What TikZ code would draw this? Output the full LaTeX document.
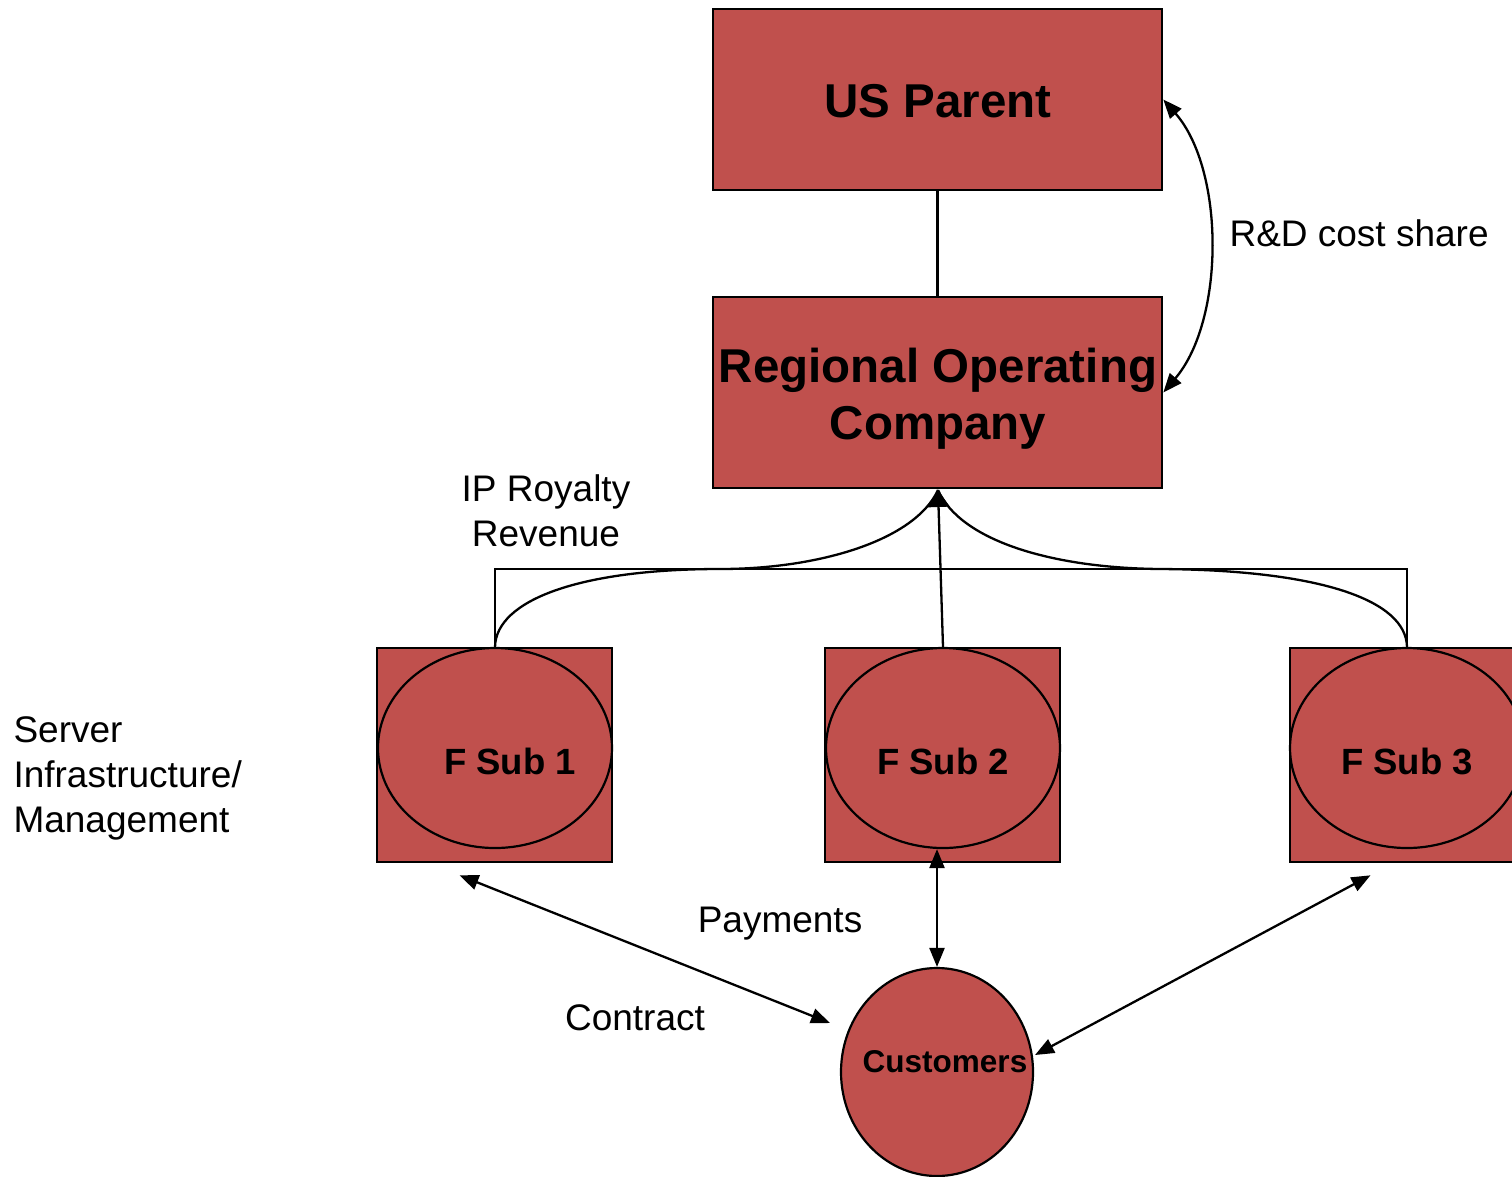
\documentclass[tikz,border=0pt]{standalone}
\usepackage{fontspec}
\setmainfont{Liberation Sans}
\usetikzlibrary{arrows.meta,shapes.geometric,calc}
\definecolor{boxred}{HTML}{C0504D}
\tikzset{
  entity/.style={draw=black,line width=2.6pt,fill=boxred,rectangle,inner sep=0pt},
  subbox/.style={entity,minimum width=235pt,minimum height=214pt},
  subell/.style={draw=black,line width=2.2pt,fill=boxred,ellipse,minimum width=234pt,minimum height=200pt,inner sep=0pt},
  bigtxt/.style={font=\fontsize{47.5}{57}\selectfont\bfseries,align=center},
  subtxt/.style={font=\fontsize{36.5}{44}\selectfont\bfseries},
  lbl/.style={font=\fontsize{37}{45}\selectfont},
  link/.style={line width=2.3pt},
  tip/.style={line width=2.3pt,{Triangle[length=19pt,width=15pt]}-{Triangle[length=19pt,width=15pt]}}
}
\begin{document}
\begin{tikzpicture}[x=1pt,y=-1pt]
\useasboundingbox (0,0) rectangle (1512,1176);
\clip (0,0) rectangle (1512,1176);

% top of the structure
\node[entity,minimum width=449pt,minimum height=181pt] (usp) at (937.5,99.5) {};
\node[bigtxt] (usptxt) at (938,101) {US Parent};
\node[entity,minimum width=449pt,minimum height=191pt] (roc) at (937.5,392.5) {};
\node[bigtxt] (roctxt) at (938,399) {Regional Operating\\Company};
\draw[link] (usp.south) -- (roc.north);

% cost sharing between parent and regional company
\draw[tip] (usp.east) .. controls (1225,170) and (1225,320) .. (roc.east);
\node[lbl,anchor=west] (rdlbl) at (1226,233) {R\&D cost share};

% foreign subsidiaries
\node[subbox] (fs1box) at (494.5,755) {};
\node[subell] (fs1ell) at (495,748) {};
\node[subtxt] (fs1txt) at (510,761) {F Sub 1};
\node[subbox] (fs2box) at (942.5,755) {};
\node[subell] (fs2ell) at (943,748) {};
\node[subtxt] (fs2txt) at (943,761) {F Sub 2};
\node[subbox] (fs3box) at (1407.5,755) {};
\node[subell] (fs3ell) at (1407,748) {};
\node[subtxt] (fs3txt) at (1407,761) {F Sub 3};

% customers
\node[draw=black,line width=2.2pt,fill=boxred,ellipse,minimum width=192pt,minimum height=208pt,inner sep=0pt] (cust) at (937,1072) {};
\node[font=\fontsize{31.5}{38}\selectfont\bfseries] (custtxt) at (945,1062) {Customers};

% royalty flows up to the regional company
\coordinate (bar) at (0,569);
\coordinate (hub) at (938,490);
\draw[link] (fs1ell.north) -- (fs1ell.north |- bar) -- (fs3ell.north |- bar) -- (fs3ell.north);
\draw[link] (fs1ell.north) .. controls (496,600) and (580,569) .. (720,569)
  .. controls (820,569) and (915,540) .. (hub);
\draw[link] (fs3ell.north) .. controls (1406,600) and (1320,570) .. (1160,569)
  .. controls (1050,568) and (960,540) .. (hub);
\draw[link,-{Triangle[length=17pt,width=22pt]}] (fs2ell.north) -- (hub);
\node[lbl,align=center] (iplbl) at (546,511) {IP Royalty\\Revenue};

% customer relations
\draw[tip] ([shift={(-35,12)}]fs1box.south) -- ([shift={(-107,-49)}]cust.center);
\draw[tip] (cust.north) -- (cust.north |- fs2ell.south);
\draw[tip] ([shift={(-37,12)}]fs3box.south) -- ([shift={(98,-17)}]cust.center);

% labels
\node[lbl,align=left,anchor=west] (srvlbl) at (10,778) {Server\\Infrastructure/\\Management};
\node[lbl] (paylbl) at (780,924) {Payments};
\node[lbl] (conlbl) at (635,1018) {Contract};
\end{tikzpicture}
\end{document}
